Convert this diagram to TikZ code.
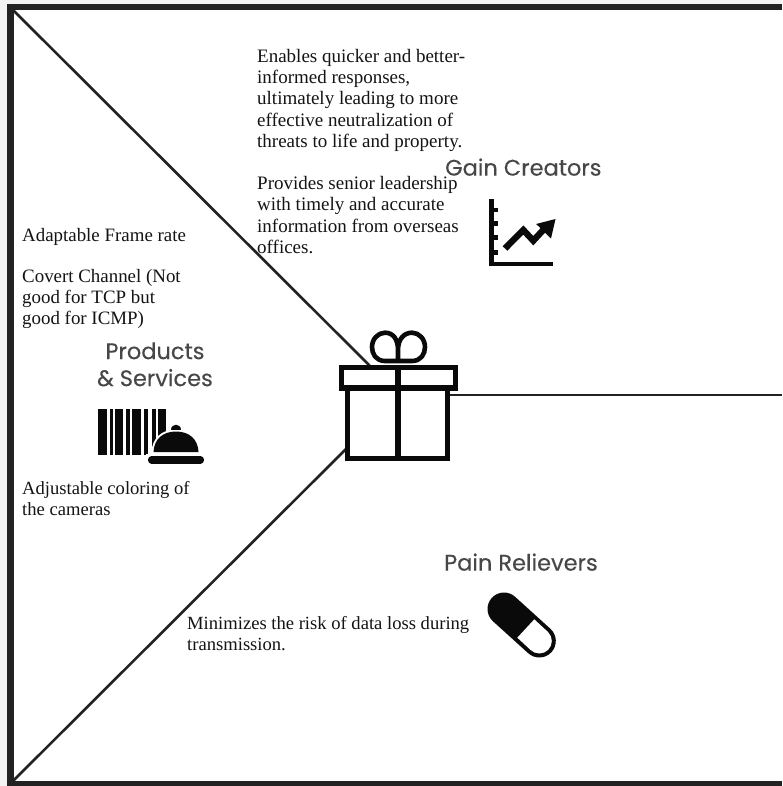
\documentclass[tikz,border=0pt]{standalone}
\usepackage{fontspec}
\setmainfont{Liberation Serif}
\newfontfamily\headfont[FakeBold=0.2]{Poppins}
\definecolor{framec}{HTML}{222222}
\definecolor{headc}{HTML}{474747}
\definecolor{marginc}{HTML}{F3F3F3}
\definecolor{inkc}{HTML}{0A0A0A}
\tikzset{
  body/.style={anchor=north west,inner sep=0pt,align=left,text=black!92,font=\fontsize{19}{21.2}\selectfont},
  bodylow/.style={body,font=\fontsize{18.6}{21.2}\selectfont},
  bodyleft/.style={body,font=\fontsize{18.9}{20.6}\selectfont},
  head/.style={anchor=north west,inner sep=0pt,text=headc,font=\headfont\fontsize{22.5}{27}\selectfont},
  divider/.style={draw=framec,line width=2.6pt},
  giftline/.style={draw=inkc,line width=5.4pt,line join=miter},
}
\begin{document}
\begin{tikzpicture}[x=1pt,y=-1pt]
\useasboundingbox (0,0) rectangle (782,786);
\fill[marginc] (0,0) rectangle (782,786);
\fill[white] (12,8) rectangle (782,783);
% frame
\fill[framec] (7,4) rectangle (782,10);
\fill[framec] (7,4) rectangle (14,545);
\fill[framec] (6.5,545) rectangle (13.5,786);
\fill[framec] (6.5,781) rectangle (782,786);
% connector ends
\coordinate (cornerTL) at (13,10);
\coordinate (cornerBL) at (13,781);
\coordinate (edgeR) at (782,395);
\coordinate (giftTL) at (369.5,365.5);
\coordinate (giftBL) at (346,449);
\coordinate (giftR) at (450,395);
\draw[divider] (cornerTL) -- (giftTL);
\draw[divider] (cornerBL) -- (giftBL);
\draw[divider,line width=2pt] (giftR) -- (edgeR);
% gift
\draw[giftline] (341.7,367.7) rectangle (455.3,388);
\draw[giftline] (347.7,388) rectangle (447.3,458.3);
\draw[giftline] (398,365) -- (398,458);
\draw[giftline,line width=4.6pt,line cap=round,line join=round]
  (398,361) -- (385,361) .. controls (376,361) and (372,354) .. (372,347)
  .. controls (372,339) and (378,332.7) .. (385,332.7)
  .. controls (393,332.7) and (398,339) .. (398,350) -- (398,361)
  -- (398,350) .. controls (398,339) and (404,332.7) .. (412,332.7)
  .. controls (419,332.7) and (425,339) .. (425,347)
  .. controls (425,354) and (421,361) .. (412,361) -- cycle;
% barcode and bell
\foreach \a/\b in {98/107,110/113.2,114.5/123,126/130,132/140.5,144/148.3,151.8/155.5,157.5/165.5}
  \fill[inkc] (\a,409) rectangle (\b,455);
\path[fill=inkc,draw=white,line width=4pt] (153.5,452.5) .. controls (154,439) and (163,431.5) .. (176,431.5)
  .. controls (189,431.5) and (198,439) .. (198.5,452.5) -- cycle;
\fill[white] (146,453.5) rectangle (206,466);
\fill[inkc] (153.5,452) .. controls (154,439) and (163,431.5) .. (176,431.5)
  .. controls (189,431.5) and (198,439) .. (198.5,452) -- cycle;
\fill[inkc] (171,430) .. controls (171,423) and (180.5,423) .. (180.5,430) -- cycle;
\draw[inkc,line width=7.6pt,line cap=round] (151.7,459.7) -- (200.3,459.7);
% chart
\fill[inkc] (489.3,199.3) rectangle (494.3,266);
\fill[inkc] (489.3,261.5) rectangle (553.3,266);
\foreach \t in {210,223.3,237.7,252.3}
  \fill[inkc] (493,\t-2.4) rectangle (497.7,\t+2.4);
\draw[inkc,line width=6.4pt,line join=miter] (505,248.5) -- (523.3,230) -- (533.3,240.7) -- (545,228);
\fill[inkc] (555.5,219) -- (536.2,224) -- (551,238.5) -- cycle;
% pill
\coordinate (pillA) at (504,609);
\coordinate (pillB) at (539.3,641);
\coordinate (pillD) at (525.8,628.5);
\draw[inkc,line width=33pt,line cap=round] (pillA) -- (pillB);
\draw[white,line width=25pt] (pillD) -- (pillB);
\fill[white] (pillB) circle (12.5pt);
% headings
\node[head] (gain) at (445,156.5) {\strut Gain Creators};
\node[head,align=center,anchor=north] (products) at (155,340) {\strut Products\\\& Services};
\node[head] (pain) at (444,551.5) {\strut Pain Relievers};
% texts
\node[body] (t1) at (257,47.5) {\strut Enables quicker and better-\\informed responses,\\ultimately leading to more\\effective neutralization of\\threats to life and property.};
\node[body] (t2) at (257,174.7) {\strut Provides senior leadership\\with timely and accurate\\information from overseas\\offices.};
\node[bodyleft] (t3) at (22,227) {\strut Adaptable Frame rate\\[20.6pt]Covert Channel (Not\\good for TCP but\\good for ICMP)};
\node[bodylow] (t4) at (22,479.5) {\strut Adjustable coloring of\\the cameras};
\node[bodylow] (t5) at (187,614.7) {\strut Minimizes the risk of data loss during\\transmission.};
\end{tikzpicture}
\end{document}
